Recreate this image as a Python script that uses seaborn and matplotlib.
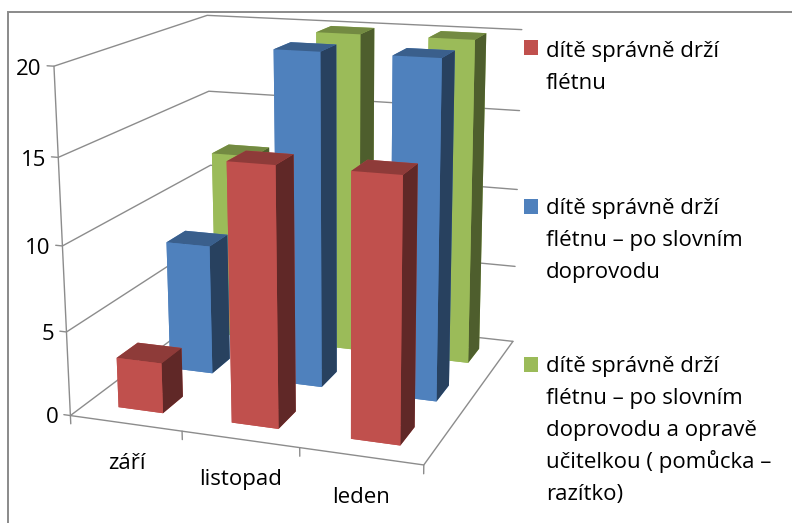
import numpy as np
import matplotlib
matplotlib.use('Agg')
import matplotlib.pyplot as plt
import seaborn as sns
from matplotlib.patches import Rectangle

# data
categories = ['září', 'listopad', 'leden']
drzi = [3, 15, 15]
drzi_doprovod = [8, 20, 20]
drzi_oprava = [12, 20, 20]
z_ticks = [0, 5, 10, 15, 20]
legend_labels = [
    'dítě správně drží\nflétnu',
    'dítě správně drží\nflétnu – po slovním\ndoprovodu',
    'dítě správně drží\nflétnu – po slovním\ndoprovodu a opravě\nučitelkou ( pomůcka –\nrazítko)',
]
colors = ['#C0504D', '#4F81BD', '#9BBB59']

W, H = 792, 523
GRID = '#8c8c8c'
FONT = 'Open Sans'
FONT_SIZE = 16


def faces(hex_color):
    # poradi sten v bar3d: dole, nahore, predni, zadni, leva, prava
    base = np.array(matplotlib.colors.to_rgb(hex_color))
    top = base * 0.74
    side = base * 0.5
    return [base, top, base, base, base, side]


sns.set_theme(style='white')
plt.rcParams['font.family'] = [FONT, 'DejaVu Sans']

fig = plt.figure(figsize=(W / 100, H / 100), dpi=100)
ax = fig.add_axes([3 / W, 6.2 / H, 585.8 / W, 585.8 / H], projection='3d', computed_zorder=False)
ax.set_xlim(0, 3)
ax.set_ylim(0, 3)
ax.set_zlim(0, 20)
ax.view_init(14.98, -69.74, 0.39)
ax.set_proj_type('persp', focal_length=0.5103)
ax.set_box_aspect((1, np.exp(-0.0121), np.exp(-0.0385)))
ax.set_xticks([])
ax.set_yticks([])
ax.set_zticks([])
ax.set_axis_off()
ax.patch.set_alpha(0)

# steny a mrizka
for z in z_ticks:
    ax.plot([-0.06, 0, 0, 3], [0, 0, 3, 3], [z, z, z, z], color=GRID, lw=1, zorder=1)
ax.plot([0, 0], [0, 0], [0, 20], color=GRID, lw=1, zorder=1)
ax.plot([0, 3, 3], [0, 0, 3], [0, 0, 0], color=GRID, lw=1, zorder=1)
for i in range(len(categories) + 1):
    ax.plot([i, i], [0, 0], [0, -0.5], color=GRID, lw=1, zorder=1)

# sloupce odzadu dopredu
all_series = [drzi, drzi_doprovod, drzi_oprava]
order = 2
for s in [2, 1, 0]:
    for c, value in enumerate(all_series[s]):
        bar_x = c * 1.015 + 0.29 + s * 0.015
        ax.bar3d(bar_x, s + 0.3, 0, 0.405, 0.4, value, color=faces(colors[s]),
                 shade=False, edgecolor='none', linewidth=0, zorder=order)
        order += 1

for z in z_ticks:
    ax.text(-0.11, 0, z - 0.22, str(z), ha='right', va='center', fontsize=FONT_SIZE, color='black', zorder=50)
for i, cat in enumerate(categories):
    ax.text(i + 0.5, 0, -2.4, cat, ha='center', va='center', fontsize=FONT_SIZE, color='black', zorder=50)

# ramecek grafu
frame = Rectangle((7.5 / W, -0.1), 1.2, 1.1 - 12.5 / H, transform=fig.transFigure, fill=False, ec='#8a8a8a', lw=1.4)
fig.add_artist(frame)

# legenda, kazdy radek zvlast kvuli rozestupu 32 px
legend_tops = [40, 199, 357]
baselines = [57, 214, 372]
for top, base, color, label in zip(legend_tops, baselines, colors, legend_labels):
    fig.add_artist(Rectangle((524 / W, 1 - (top + 15) / H), 14 / W, 15 / H, transform=fig.transFigure, color=color, lw=0))
    for i, line in enumerate(label.split('\n')):
        fig.text(546 / W, 1 - (base + i * 32) / H, line, ha='left', va='baseline', fontsize=FONT_SIZE, color='black')

plt.savefig('out.png', dpi=100)
